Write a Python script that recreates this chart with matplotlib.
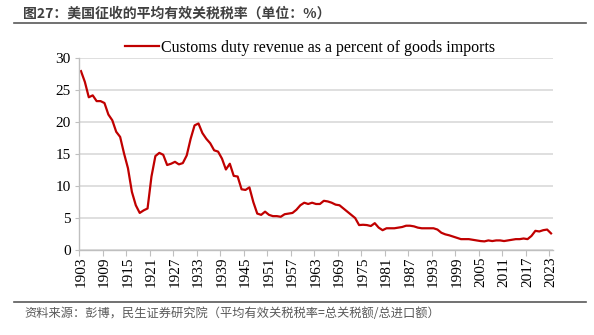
import matplotlib
matplotlib.use("Agg")
import matplotlib.pyplot as plt
import numpy as np

years = list(range(1903, 2024))
rate = [
    28.0, 26.3, 23.9, 24.2, 23.3, 23.3, 23.0, 21.2, 20.3, 18.5,   # 1903-1912
    17.7, 15.1, 12.8, 9.1, 7.0, 5.8, 6.2, 6.5, 11.5, 14.7,        # 1913-1922
    15.2, 14.9, 13.3, 13.5, 13.8, 13.4, 13.6, 14.8, 17.4, 19.5,   # 1923-1932
    19.8, 18.3, 17.4, 16.7, 15.6, 15.4, 14.3, 12.6, 13.5, 11.6,   # 1933-1942
    11.5, 9.5, 9.4, 9.8, 7.5, 5.7, 5.5, 6.0, 5.5, 5.3,            # 1943-1952
    5.3, 5.2, 5.6, 5.7, 5.8, 6.3, 7.0, 7.4, 7.2, 7.4,             # 1953-1962
    7.2, 7.2, 7.7, 7.6, 7.4, 7.1, 7.0, 6.5, 6.0, 5.5,             # 1963-1972
    5.0, 3.9, 3.95, 3.9, 3.75, 4.2, 3.5, 3.1, 3.4, 3.4,           # 1973-1982
    3.4, 3.5, 3.6, 3.8, 3.8, 3.7, 3.5, 3.4, 3.4, 3.4,             # 1983-1992
    3.4, 3.2, 2.7, 2.45, 2.3, 2.1, 1.9, 1.7, 1.7, 1.7,            # 1993-2002
    1.6, 1.5, 1.4, 1.35, 1.5, 1.4, 1.5, 1.5, 1.4, 1.5,            # 2003-2012
    1.6, 1.7, 1.7, 1.8, 1.7, 2.2, 3.0, 2.9, 3.1, 3.2,             # 2013-2022
    2.6,                                                           # 2023
]
tick_years = list(range(1903, 2024, 6))
y_ticks = [0, 5, 10, 15, 20, 25, 30]

title = "图27：美国征收的平均有效关税税率（单位：%）"
legend_label = "Customs duty revenue as a percent of goods imports"
source = "资料来源：彭博，民生证券研究院（平均有效关税税率=总关税额/总进口额）"

cjk = ["Noto Sans CJK SC", "DejaVu Sans"]
serif = "Liberation Serif"

fig = plt.figure(figsize=(5.94, 3.35), dpi=100)
ax = fig.add_axes([79 / 594, 85 / 335, 474 / 594, 191.7 / 335])

line, = ax.plot(years, rate, color="#c00000", lw=1.6, solid_joinstyle="round")

ax.set_xlim(years[0] - 0.5, years[-1] + 0.5)
ax.set_ylim(0, 30)

# tick marks sit on category boundaries, labels on the category centres
ax.set_xticks([y - 0.5 for y in tick_years])
ax.set_xticklabels([])
ax.set_xticks(tick_years, minor=True)
ax.set_xticklabels([str(y) for y in tick_years], minor=True, rotation=90,
                   fontfamily=serif, fontsize=11)
ax.tick_params(axis="x", which="major", length=4, color="#bfbfbf", direction="out")
ax.tick_params(axis="x", which="minor", length=0, pad=5)

ax.set_yticks(y_ticks)
ax.set_yticklabels([str(v) for v in y_ticks], fontfamily=serif, fontsize=11)
ax.tick_params(axis="y", length=3, color="#bfbfbf", direction="out", pad=3)

ax.grid(axis="y", color="#d9d9d9", lw=1.2)
ax.set_axisbelow(True)
for side in ["top", "right"]:
    ax.spines[side].set_visible(False)
for side in ["left", "bottom"]:
    ax.spines[side].set_color("#bfbfbf")
    ax.spines[side].set_linewidth(1.0)

leg = fig.legend([line], [legend_label], loc="center", bbox_to_anchor=(310 / 594, 1 - 47.5 / 335),
                 frameon=False, prop={"family": serif, "size": 11.5},
                 handlelength=2.1, handletextpad=0.15, borderaxespad=0)

fig.text(23 / 594, 1 - 13.5 / 335, title, fontfamily=cjk, fontsize=10, fontweight="bold",
         color="#404040", va="center", ha="left")
fig.add_artist(plt.Line2D([14 / 594, 586 / 594], [1 - 23 / 335, 1 - 23 / 335],
                          color="#595959", lw=1.2))
fig.add_artist(plt.Line2D([14 / 594, 586 / 594], [1 - 301.5 / 335, 1 - 301.5 / 335],
                          color="#595959", lw=1.2))
fig.text(24 / 594, 1 - 313.5 / 335, source, fontfamily=cjk, fontsize=8.8,
         color="#595959", va="center", ha="left")

fig.savefig("out.png", dpi=100)
